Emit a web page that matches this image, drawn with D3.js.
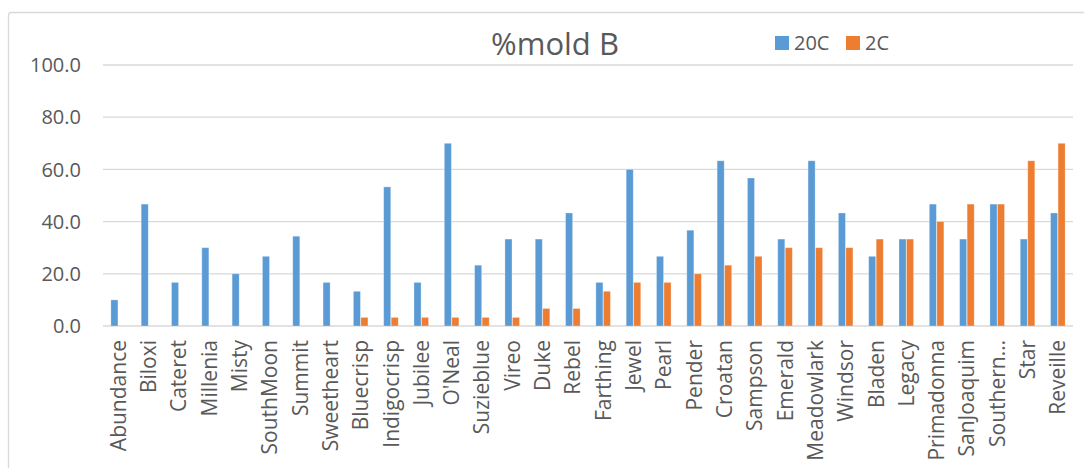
<!DOCTYPE html>
<html>
<head>
<meta charset="utf-8">
<script src="https://cdn.jsdelivr.net/npm/d3@7"></script>
<style>
  body { margin: 0; background: #fff; }
  svg text { font-family: "Open Sans", sans-serif; fill: #595959; }
</style>
</head>
<body>
<svg id="chart" width="1084" height="468"></svg>
<script>
var categories = ['Abundance','Biloxi','Cateret','Millenia','Misty','SouthMoon','Summit','Sweetheart',
  'Bluecrisp','Indigocrisp','Jubilee',"O'Neal",'Suzieblue','Vireo','Duke','Rebel','Farthing','Jewel',
  'Pearl','Pender','Croatan','Sampson','Emerald','Meadowlark','Windsor','Bladen','Legacy','Primadonna',
  'SanJoaquim','Southern\u2026','Star','Reveille'];
var seriesNames = ['20C','2C'];
var vals20C = [10,46.7,16.7,30,20,26.7,34.4,16.7,13.3,53.3,16.7,70,23.3,33.3,33.3,43.3,16.7,60,
  26.7,36.7,63.3,56.7,33.3,63.3,43.3,26.7,33.3,46.7,33.3,46.7,33.3,43.3];
var vals2C = [0,0,0,0,0,0,0,0,3.3,3.3,3.3,3.3,3.3,3.3,6.7,6.7,13.3,16.7,
  16.7,20,23.3,26.7,30,30,30,33.3,33.3,40,46.7,46.7,63.3,70];
var yTicks = [0,20,40,60,80,100];
var colors = {'20C':'#5b9bd5','2C':'#ed7d31'};

var svg = d3.select('#chart'),
  margin = {top: 65, right: 11, bottom: 142, left: 103},
  width = +svg.attr('width') - margin.left - margin.right,
  height = +svg.attr('height') - margin.top - margin.bottom;

// chart frame
svg.append('rect')
  .attr('x', 8.5).attr('y', 12.5)
  .attr('width', 1200).attr('height', 600)
  .attr('rx', 3)
  .style('fill', 'none').style('stroke', '#d9d9d9').style('stroke-width', 1.3);

var g = svg.append('g').attr('transform', 'translate(' + margin.left + ',' + margin.top + ')');

var x0 = d3.scaleBand().domain(categories).range([0, width]).paddingInner(0.49).paddingOuter(0.245);
var x1 = d3.scaleBand().domain(seriesNames).range([0, x0.bandwidth()]).padding(0.06);
var y = d3.scaleLinear().domain([0, 100]).range([height, 0]);

// gridlines
g.append('g').selectAll('line')
  .data(yTicks)
  .enter().append('line')
  .attr('x1', 0).attr('x2', width)
  .attr('y1', function(d) { return y(d); })
  .attr('y2', function(d) { return y(d); })
  .style('stroke', '#d9d9d9').style('stroke-width', 1.3);

// y labels
g.append('g').selectAll('text')
  .data(yTicks)
  .enter().append('text')
  .attr('x', -22)
  .attr('y', function(d) { return y(d); })
  .attr('dy', '0.36em')
  .attr('text-anchor', 'end')
  .style('font-size', '20px')
  .text(function(d) { return d3.format('.1f')(d); });

var series = [{key:'20C', values: vals20C}, {key:'2C', values: vals2C}];

series.forEach(function(s) {
  g.append('g').selectAll('rect')
    .data(s.values)
    .enter().append('rect')
    .attr('x', function(d, i) { return x0(categories[i]) + x1(s.key); })
    .attr('y', function(d) { return y(d); })
    .attr('width', x1.bandwidth())
    .attr('height', function(d) { return height - y(d); })
    .style('fill', colors[s.key])
    .style('stroke', '#fff').style('stroke-opacity', 0.35).style('stroke-width', 0.8);
});

// category labels, rotated
g.append('g').selectAll('text')
  .data(categories)
  .enter().append('text')
  .attr('transform', function(d) {
    return 'translate(' + (x0(d) + x0.bandwidth() / 2) + ',' + (height + 14) + ') rotate(-90)';
  })
  .attr('dy', '0.36em')
  .attr('text-anchor', 'end')
  .style('font-size', '21px')
  .text(function(d) { return d; });

// title
svg.append('text')
  .attr('x', 555).attr('y', 55)
  .attr('text-anchor', 'middle')
  .style('font-size', '31px')
  .text('%mold B');

// legend
var leg = svg.append('g');
var legX = [775, 846];
seriesNames.forEach(function(k, i) {
  leg.append('rect')
    .attr('x', legX[i]).attr('y', 36)
    .attr('width', 14).attr('height', 14)
    .style('fill', colors[k]);
  leg.append('text')
    .attr('x', legX[i] + 19).attr('y', 43)
    .attr('dy', '0.36em')
    .style('font-size', '20px')
    .text(k);
});
</script>
</body>
</html>
